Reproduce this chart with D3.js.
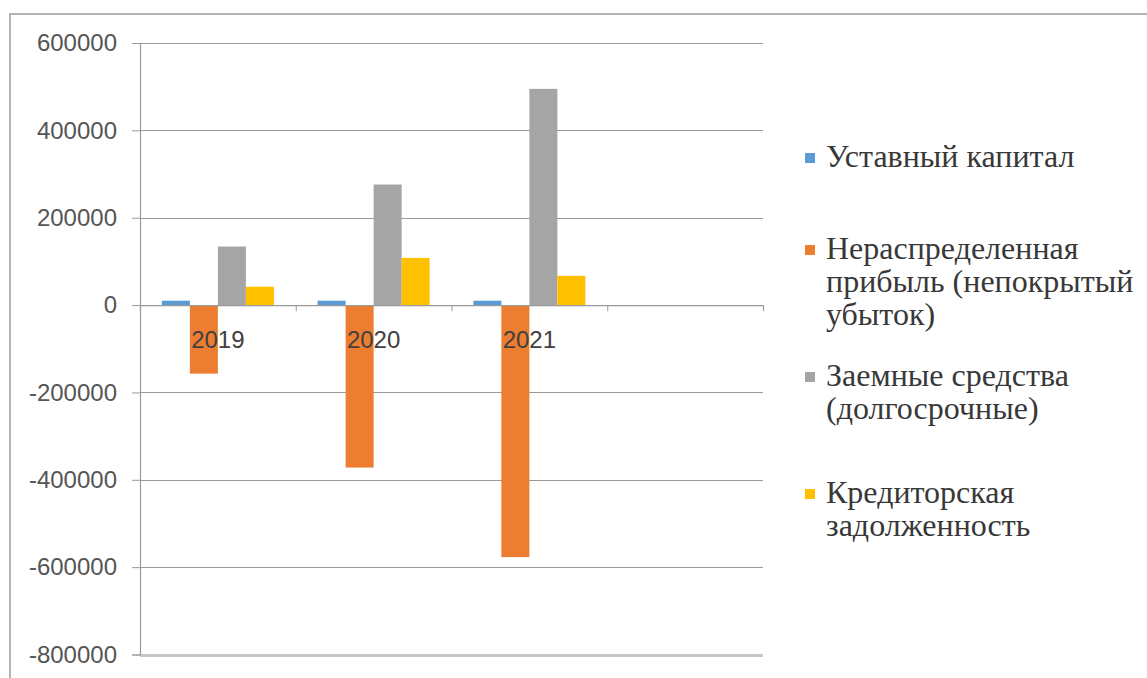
<!DOCTYPE html>
<html>
<head>
<meta charset="utf-8">
<script src="https://cdn.jsdelivr.net/npm/d3@7"></script>
<style>
  body { margin: 0; background: #fff; }
  svg { display: block; }
</style>
</head>
<body>
<svg id="chart" width="1147" height="678"></svg>
<script>
// categories (4th slot is empty in the original chart)
const years = ['2019', '2020', '2021', ''];
const seriesNames = [
  'Уставный капитал',
  'Нераспределенная прибыль (непокрытый убыток)',
  'Заемные средства (долгосрочные)',
  'Кредиторская задолженность'
];
const legendLines = [
  ['Уставный капитал'],
  ['Нераспределенная', 'прибыль (непокрытый', 'убыток)'],
  ['Заемные средства', '(долгосрочные)'],
  ['Кредиторская', 'задолженность']
];
const ustavny = [10000, 10000, 10000, null];
const neraspred = [-157000, -372000, -577000, null];
const zaemnye = [134000, 276000, 495000, null];
const kreditor = [42000, 108000, 67000, null];
const yTicks = [-800000, -600000, -400000, -200000, 0, 200000, 400000, 600000];
const colors = ['#5B9BD5', '#ED7D31', '#A5A5A5', '#FFC000'];

const seriesValues = [ustavny, neraspred, zaemnye, kreditor];

const svg = d3.select('#chart');

// outer chart frame
svg.append('rect')
  .attr('x', 10).attr('y', 14)
  .attr('width', 1160).attr('height', 700)
  .attr('fill', 'none')
  .attr('stroke', '#b4b4b4')
  .attr('stroke-width', 2);

const plot = {left: 140, right: 763, top: 43, bottom: 654.5};

const x0 = d3.scaleBand().domain(years).range([plot.left, plot.right]).padding(0);
const x1 = d3.scaleBand().domain(d3.range(seriesNames.length))
  .range([0, x0.bandwidth()]).paddingInner(0).paddingOuter(0.78);
const y = d3.scaleLinear().domain([-800000, 600000]).range([plot.bottom, plot.top]);

// gridlines
svg.append('g')
  .selectAll('line')
  .data(yTicks)
  .enter()
  .append('line')
  .attr('x1', plot.left)
  .attr('x2', plot.right)
  .attr('y1', d => Math.round(y(d)) + 0.5)
  .attr('y2', d => Math.round(y(d)) + 0.5)
  .attr('stroke', d => d === -800000 ? '#c8c8c8' : '#9a9a9a')
  .attr('stroke-width', d => d === -800000 ? 3 : 1.2);

// y axis
const yAxis = svg.append('g')
  .attr('transform', 'translate(' + plot.left + ',0)')
  .call(d3.axisLeft(y).tickValues(yTicks).tickSize(8).tickPadding(15).tickFormat(d => String(d)));
yAxis.select('.domain').attr('stroke', '#9a9a9a').attr('stroke-width', 1.2);
yAxis.selectAll('.tick line').attr('stroke', '#9a9a9a');
yAxis.selectAll('text')
  .attr('font-family', 'Liberation Sans')
  .attr('font-size', 24)
  .attr('fill', '#555');

// bars
const groups = svg.append('g')
  .selectAll('g')
  .data(seriesValues)
  .enter()
  .append('g')
  .attr('fill', (d, i) => colors[i]);

groups.each(function(vals, si) {
  d3.select(this).selectAll('rect')
    .data(vals.map((v, i) => ({year: years[i], v: v})).filter(d => d.v !== null))
    .enter()
    .append('rect')
    .attr('x', d => x0(d.year) + x1(si))
    .attr('width', x1.bandwidth())
    .attr('y', d => y(Math.max(0, d.v)))
    .attr('height', d => Math.abs(y(d.v) - y(0)));
});

// category axis at zero: boundary ticks
const xb = d3.scaleLinear().domain([0, years.length]).range([plot.left, plot.right]);
const xAxis = svg.append('g')
  .attr('transform', 'translate(0,' + y(0) + ')')
  .call(d3.axisBottom(xb).tickValues([1, 2, 3, 4]).tickSize(6).tickFormat(''));
xAxis.select('.domain').attr('stroke', '#9a9a9a').attr('stroke-width', 1.2);
xAxis.selectAll('.tick line').attr('stroke', '#9a9a9a');

// category labels (drawn over bars)
svg.append('g')
  .selectAll('text')
  .data(years.filter(d => d !== ''))
  .enter()
  .append('text')
  .attr('x', d => x0(d) + x0.bandwidth() / 2)
  .attr('y', 348)
  .attr('text-anchor', 'middle')
  .attr('font-family', 'Liberation Sans')
  .attr('font-size', 24)
  .attr('fill', '#404040')
  .text(d => d);

// legend
const legendY = [158, 250, 377, 494];
const lineGap = 33;
const legend = svg.append('g');
legendLines.forEach((lines, i) => {
  legend.append('rect')
    .attr('x', 805)
    .attr('y', legendY[i] - 5)
    .attr('width', 10)
    .attr('height', 10)
    .attr('fill', colors[i]);
  lines.forEach((ln, j) => {
    legend.append('text')
      .attr('x', 826)
      .attr('y', legendY[i] + j * lineGap + 9)
      .attr('font-family', 'Liberation Serif')
      .attr('font-size', 32)
      .attr('fill', '#383838')
      .text(ln);
  });
});
</script>
</body>
</html>
